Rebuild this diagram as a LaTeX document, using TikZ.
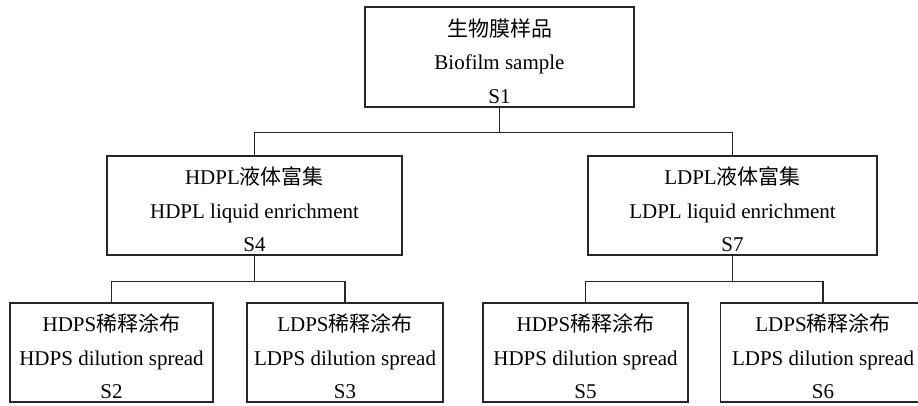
\documentclass[tikz,border=0pt]{standalone}
\usepackage{fontspec}
\setmainfont{Liberation Serif}
\newfontfamily\cjk{Noto Sans CJK SC}
\newcommand\toprow{\rule{0pt}{26pt}}

\tikzset{
  stepbox/.style={draw=black!85,line width=1.1pt,rectangle,align=center,
    font=\fontsize{21}{33.5}\selectfont,inner sep=0pt,minimum height=99pt},
  link/.style={draw=black!85,line width=1.1pt}
}

\begin{document}
\begin{tikzpicture}[x=1pt,y=-1pt]

      \useasboundingbox (0,0) rectangle (918,405);

      \begin{scope}[every node/.style={stepbox}]
        \node[minimum width=269pt,minimum height=100pt] (s1) at (499.5,57)
          {\toprow{\cjk 生物膜样品}\\Biofilm sample\\S1};
        \node[minimum width=295pt] (s4) at (254.5,205.5)
          {\toprow HDPL{\cjk 液体富集}\\HDPL liquid enrichment\\S4};
        \node[minimum width=289pt] (s7) at (732.5,205.5)
          {\toprow LDPL{\cjk 液体富集}\\LDPL liquid enrichment\\S7};
        \node[minimum width=203pt] (s2) at (111.5,352.5)
          {\toprow HDPS{\cjk 稀释涂布}\\HDPS dilution spread\\S2};
        \node[minimum width=196pt] (s3) at (345,352.5)
          {\toprow LDPS{\cjk 稀释涂布}\\LDPS dilution spread\\S3};
        \node[minimum width=205pt] (s5) at (585.5,352.5)
          {\toprow HDPS{\cjk 稀释涂布}\\HDPS dilution spread\\S5};
        \node[minimum width=205pt] (s6) at (823,352.5)
          {\toprow LDPS{\cjk 稀释涂布}\\LDPS dilution spread\\S6};
      \end{scope}

      \begin{scope}[every path/.style={link}]
        \path (s1.south) -- ++(0,25) -| (s4.north);
        \path (s1.south) -- ++(0,25) -| (s7.north);
        \path (s4.south) -- ++(0,26) -| (s2.north);
        \path (s4.south) -- ++(0,26) -| (s3.north);
        \path (s7.south) -- ++(0,26) -| (s5.north);
        \path (s7.south) -- ++(0,26) -| (s6.north);
      \end{scope}

    \end{tikzpicture}
\end{document}
